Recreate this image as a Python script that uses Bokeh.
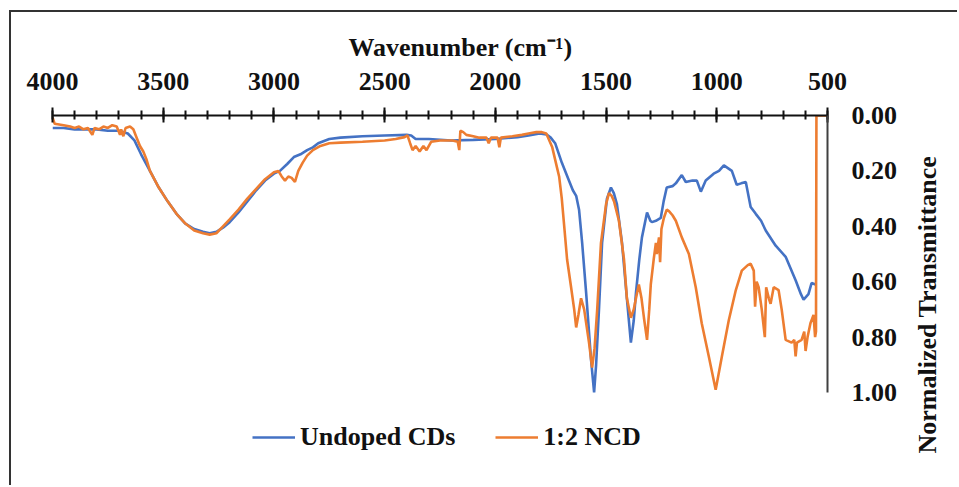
import math
from bokeh.plotting import figure
from bokeh.models import (Range1d, FixedTicker, Legend, LegendItem, Title,
                          LinearAxis, NumeralTickFormatter)
from bokeh.embed import file_html
from bokeh.resources import INLINE

# ---------------- data ----------------
x_ticks = [4000, 3500, 3000, 2500, 2000, 1500, 1000, 500]
y_ticks = [0.0, 0.2, 0.4, 0.6, 0.8, 1.0]
series_names = ["Undoped CDs", "1:2 NCD"]

wn_undoped = [4000, 3950, 3900, 3850, 3800, 3750, 3700, 3660, 3630, 3600,
              3560, 3520, 3480, 3440, 3400, 3360, 3320, 3290, 3260, 3230,
              3200, 3160, 3120, 3080, 3040, 3000, 2973, 2940, 2910, 2880,
              2850, 2824, 2800, 2750, 2700, 2600, 2500, 2400, 2380, 2360,
              2300, 2200, 2100, 2000, 1900, 1850, 1800, 1770, 1750, 1730,
              1700, 1670, 1650, 1635, 1622, 1608, 1590, 1568, 1554, 1545,
              1532, 1518, 1496, 1478, 1465, 1451, 1428, 1406, 1388, 1375,
              1365, 1350, 1338, 1315, 1300, 1293, 1275, 1253, 1240, 1226,
              1200, 1185, 1158, 1140, 1110, 1090, 1072, 1050, 1014, 990,
              968, 950, 932, 910, 890, 869, 847, 824, 800, 779,
              734, 689, 644, 620, 608, 586, 572, 554]
t_undoped = [0.045, 0.045, 0.05, 0.05, 0.05, 0.055, 0.055, 0.065, 0.09, 0.14,
             0.20, 0.26, 0.31, 0.355, 0.39, 0.41, 0.42, 0.425, 0.42, 0.405,
             0.385, 0.35, 0.31, 0.27, 0.235, 0.21, 0.20, 0.175, 0.15, 0.14,
             0.125, 0.115, 0.10, 0.085, 0.08, 0.075, 0.072, 0.07, 0.072, 0.085,
             0.085, 0.09, 0.088, 0.085, 0.078, 0.072, 0.065, 0.068, 0.08, 0.10,
             0.17, 0.23, 0.27, 0.29, 0.34, 0.46, 0.64, 0.88, 1.00, 0.90,
             0.70, 0.46, 0.30, 0.26, 0.28, 0.32, 0.46, 0.66, 0.82, 0.74,
             0.64, 0.52, 0.44, 0.35, 0.38, 0.385, 0.38, 0.37, 0.31, 0.26,
             0.255, 0.245, 0.215, 0.24, 0.235, 0.235, 0.275, 0.235, 0.21, 0.20,
             0.18, 0.19, 0.20, 0.25, 0.245, 0.24, 0.33, 0.355, 0.38, 0.415,
             0.47, 0.51, 0.595, 0.645, 0.665, 0.645, 0.605, 0.61]

wn_ncd = [4000, 3990, 3950, 3920, 3900, 3880, 3860, 3840, 3820, 3810,
          3790, 3770, 3750, 3730, 3710, 3695, 3690, 3680, 3670, 3650,
          3635, 3620, 3605, 3590, 3575, 3560, 3520, 3480, 3440, 3400,
          3360, 3320, 3290, 3260, 3230, 3200, 3160, 3120, 3080, 3040,
          3000, 2980, 2965, 2950, 2935, 2920, 2905, 2890, 2870, 2850,
          2824, 2790, 2750, 2700, 2600, 2500, 2450, 2410, 2397, 2385,
          2374, 2360, 2342, 2325, 2311, 2290, 2250, 2194, 2170, 2163,
          2158, 2145, 2131, 2100, 2072, 2040, 2030, 2020, 1990, 1982,
          1975, 1923, 1880, 1850, 1815, 1790, 1770, 1743, 1721, 1712,
          1700, 1689, 1676, 1658, 1644, 1635, 1625, 1613, 1599, 1577,
          1563, 1552, 1540, 1523, 1500, 1487, 1475, 1464, 1442, 1419,
          1406, 1388, 1375, 1365, 1352, 1340, 1329, 1315, 1305, 1298,
          1285, 1275, 1271, 1261, 1256, 1250, 1239, 1226, 1216, 1200,
          1185, 1158, 1126, 1095, 1068, 1036, 1005, 977, 946, 914,
          887, 860, 847, 833, 827, 820, 811, 797, 783, 777,
          765, 757, 743, 721, 707, 689, 662, 650, 644, 638,
          617, 605, 599, 590, 577, 563, 556, 552, 550, 500]
t_ncd = [0.007, 0.03, 0.035, 0.04, 0.045, 0.04, 0.05, 0.045, 0.07, 0.045,
         0.05, 0.04, 0.045, 0.035, 0.04, 0.07, 0.05, 0.075, 0.045, 0.04,
         0.05, 0.08, 0.11, 0.13, 0.16, 0.20, 0.26, 0.31, 0.355, 0.39,
         0.415, 0.425, 0.43, 0.425, 0.40, 0.375, 0.34, 0.30, 0.265, 0.23,
         0.205, 0.20, 0.22, 0.235, 0.22, 0.225, 0.24, 0.20, 0.17, 0.145,
         0.125, 0.11, 0.10, 0.098, 0.095, 0.09, 0.085, 0.078, 0.072, 0.10,
         0.125, 0.11, 0.13, 0.11, 0.125, 0.095, 0.09, 0.09, 0.095, 0.125,
         0.055, 0.06, 0.07, 0.075, 0.08, 0.08, 0.10, 0.08, 0.08, 0.115,
         0.08, 0.075, 0.07, 0.065, 0.06, 0.06, 0.065, 0.115, 0.19, 0.22,
         0.30, 0.40, 0.52, 0.62, 0.70, 0.765, 0.72, 0.66, 0.70, 0.82,
         0.91, 0.84, 0.70, 0.46, 0.32, 0.28, 0.29, 0.31, 0.38, 0.52,
         0.66, 0.73, 0.70, 0.66, 0.61, 0.66, 0.73, 0.81, 0.70, 0.61,
         0.52, 0.46, 0.50, 0.44, 0.53, 0.41, 0.37, 0.34, 0.345, 0.36,
         0.38, 0.44, 0.50, 0.62, 0.75, 0.87, 0.99, 0.87, 0.74, 0.63,
         0.56, 0.54, 0.535, 0.56, 0.69, 0.60, 0.62, 0.70, 0.80, 0.62,
         0.66, 0.68, 0.62, 0.63, 0.70, 0.81, 0.82, 0.81, 0.87, 0.82,
         0.81, 0.78, 0.85, 0.80, 0.75, 0.72, 0.80, 0.78, 0.0, 0.0]

# ---------------- styling ----------------
FONT = "Liberation Serif"
FS = "26px"
BLUE = "#4472C4"
ORANGE = "#ED7D31"
INK = "#111111"

# figure sits inside a bordered chart area (border at x=9, y=10 of the window)
W, H = 948, 475
p = figure(width=W, height=H, output_backend="svg", toolbar_location=None,
           x_range=Range1d(4000, 500), y_range=Range1d(1.2202, 0),
           x_axis_location="above", y_axis_location="right",
           min_border_left=41, min_border_right=130,
           min_border_top=103, min_border_bottom=34,
           background_fill_color="white", border_fill_color="white",
           styles={"margin-left": "9px", "margin-top": "10px",
                   "border-left": "2px solid #333333",
                   "border-top": "2px solid #333333"})
p.outline_line_color = None
p.grid.visible = False
p.extra_y_ranges = {"title": Range1d(0, 1)}

r1 = p.line(wn_undoped, t_undoped, line_color=BLUE, line_width=2.6)
r2 = p.line(wn_ncd, t_ncd, line_color=ORANGE, line_width=2.6)

xa = p.xaxis[0]
xa.ticker = FixedTicker(ticks=x_ticks, minor_ticks=list(range(500, 4001, 100)))
xa.axis_line_color = INK
xa.axis_line_width = 2
xa.major_tick_line_color = INK
xa.major_tick_line_width = 2
xa.major_tick_out = 8
xa.major_tick_in = 7
xa.minor_tick_line_color = INK
xa.minor_tick_line_width = 2
xa.minor_tick_out = 5
xa.minor_tick_in = 4
xa.major_label_text_font = FONT
xa.major_label_text_font_style = "bold"
xa.major_label_text_font_size = FS
xa.major_label_text_color = INK
xa.major_label_standoff = 18

ya = p.yaxis[0]
ya.bounds = (0, 1)
ya.ticker = FixedTicker(ticks=y_ticks, minor_ticks=[])
ya.formatter = NumeralTickFormatter(format="0.00")
ya.axis_line_color = "#404040"
ya.axis_line_width = 2
ya.major_tick_line_color = None
ya.minor_tick_line_color = None
ya.major_tick_out = 0
ya.major_tick_in = 0
ya.major_label_text_font = FONT
ya.major_label_text_font_style = "bold"
ya.major_label_text_font_size = FS
ya.major_label_text_color = INK
ya.major_label_standoff = 24

# right-hand axis title (carried by a bare axis placed outside the first one)
ya2 = LinearAxis(y_range_name="title", ticker=FixedTicker(ticks=[], minor_ticks=[]),
                 axis_line_color=None, major_tick_line_color=None,
                 minor_tick_line_color=None, major_label_text_font_size="0px",
                 axis_label="Normalized Transmittance", axis_label_standoff=27,
                 axis_label_text_font=FONT, axis_label_text_font_style="bold",
                 axis_label_text_font_size=FS, axis_label_text_color=INK)
try:
    ya2.axis_label_orientation = math.pi / 2
except Exception:
    pass
try:
    ya2.axis_label_align = "start"
except Exception:
    pass
p.add_layout(ya2, "right")

# top axis title
p.add_layout(Title(text="Wavenumber (cm\u207b\u00b9)", align="left", offset=296,
                   standoff=16, text_font=FONT, text_font_style="bold",
                   text_font_size=FS, text_color=INK), "above")

legend = Legend(items=[LegendItem(label=series_names[0], renderers=[r1]),
                       LegendItem(label=series_names[1], renderers=[r2])],
                orientation="horizontal", location=(200, 1),
                glyph_width=43, label_standoff=5, spacing=40,
                padding=10, margin=0,
                label_text_font=FONT, label_text_font_style="bold",
                label_text_font_size=FS, label_text_color=INK,
                border_line_color=None, background_fill_alpha=0)
p.add_layout(legend, "center")

open("out.html", "w").write(file_html(p, INLINE))
